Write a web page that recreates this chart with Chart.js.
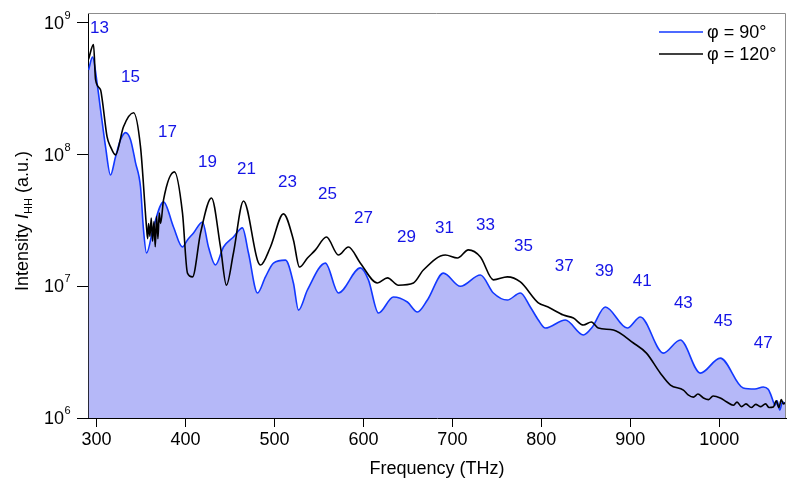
<!DOCTYPE html>
<html>
<head>
<meta charset="utf-8">
<script src="https://cdn.jsdelivr.net/npm/chart.js@4.4.1/dist/chart.umd.min.js"></script>
<style>
  body { margin: 0; background: #fff; }
  canvas { display: block; }
</style>
</head>
<body>
<canvas id="chart" width="800" height="484"></canvas>
<script>
// phi = 90 deg (blue, filled)
const freq90 = [291.0, 295.5, 301.1, 304.5, 310.1, 315.7, 321.3, 327.0, 332.6, 338.2, 343.8, 349.4, 352.8, 356.2,
  364.0, 375.3, 386.5, 396.6, 402.2, 409.0, 419.1, 425.8, 433.7, 442.7, 453.9, 464.0, 470.8, 480.9, 489.9, 498.9,
  512.4, 521.3, 527.0, 537.1, 557.3, 571.9, 596.6, 605.6, 616.9, 633.7, 649.4, 660.7, 671.9, 689.9, 709.0, 731.5,
  746.1, 761.8, 776.4, 787.6, 796.6, 804.5, 827.0, 847.2, 857.3, 871.9, 896.6, 911.3, 937.1, 956.2, 978.7, 1001.1,
  1026.9, 1040, 1049.4, 1055, 1058, 1062.9, 1065, 1068, 1071, 1075];
const int90 = [4.4e8, 5.5e8, 3.3e8, 2.2e8, 1.15e8, 7.0e7, 9.6e7, 1.3e8, 1.47e8, 1.3e8, 8.7e7, 5.7e7, 2.68e7, 1.79e7,
  2.82e7, 4.38e7, 2.82e7, 1.99e7, 2.25e7, 2.54e7, 3.08e7, 1.99e7, 1.45e7, 1.99e7, 2.37e7, 2.78e7, 1.79e7, 8.9e6, 1.18e7, 1.5e7,
  1.58e7, 1.06e7, 6.6e6, 9.4e6, 1.5e7, 8.9e6, 1.38e7, 1.12e7, 6.27e6, 8.3e6, 7.6e6, 6.38e6, 7.87e6, 1.26e7, 1.0e7, 1.22e7,
  8.9e6, 7.87e6, 8.9e6, 6.97e6, 5.55e6, 4.82e6, 5.55e6, 4.27e6, 4.91e6, 6.97e6, 4.82e6, 5.85e6, 3.11e6, 3.91e6, 2.19e6, 2.85e6,
  1.69e6, 1.66e6, 1.72e6, 1.65e6, 1.5e6, 1.25e6, 1.35e6, 1.15e6, 1.32e6, 1.28e6];

// phi = 120 deg (black)
const freq120 = [291.0, 296.6, 298.9, 304.5, 306.4, 311.8, 315.7, 321.3, 330.3, 341.6, 349.4, 356.2,
  357.5, 358.5, 360, 361.5, 363, 364.5, 366, 367.5, 369, 370.5, 372,
  375.3, 387.6, 396.6, 402.2, 407.9, 416.9, 429.2, 439.3, 446.0, 453.9, 465.2, 480.9, 484.3, 495.5, 510.1, 521.3, 528.1,
  537.1, 546.1, 558.4, 571.9, 583.1, 596.6, 615.7, 627.0, 639.3, 656.2, 667.4, 692.1, 705.6, 718.0, 731.5, 746.1,
  761.8, 776.4, 796.6, 807, 824.8, 836.0, 847.2, 856.2, 864, 881.0, 903.5, 918.1, 933.8, 945.1, 959.7, 965, 970.9,
  976, 982.2, 988, 993, 1001.1, 1008, 1015.7, 1020, 1025, 1030, 1036, 1041, 1046.1, 1052, 1056, 1060.7, 1064, 1067,
  1069.7, 1072, 1075];
const int120 = [5.3e8, 6.84e8, 3.71e8, 3.11e8, 2.61e8, 1.37e8, 1.15e8, 9.96e7, 1.63e8, 2.08e8, 1.15e8, 2.8e7,
  2.3e7, 3.0e7, 2.4e7, 3.3e7, 2.2e7, 3.1e7, 2.0e7, 3.4e7, 2.3e7, 3.6e7, 3.0e7,
  4.53e7, 7.4e7, 3.61e7, 1.26e7, 1.18e7, 2.54e7, 4.69e7, 1.99e7, 1.02e7, 1.79e7, 4.45e7, 1.58e7, 1.45e7, 1.99e7, 3.55e7, 2.25e7, 1.4e7,
  1.64e7, 1.89e7, 2.37e7, 1.73e7, 1.99e7, 1.5e7, 1.06e7, 1.16e7, 1.02e7, 1.06e7, 1.33e7, 1.73e7, 1.64e7, 1.89e7, 1.67e7, 1.12e7,
  1.18e7, 1.08e7, 7.5e6, 7.0e6, 6.05e6, 5.74e6, 5.08e6, 5.36e6, 4.82e6, 4.66e6, 3.71e6, 3.11e6, 2.19e6, 1.78e6, 1.63e6, 1.5e6, 1.44e6,
  1.52e6, 1.42e6, 1.38e6, 1.47e6, 1.42e6, 1.33e6, 1.25e6, 1.32e6, 1.22e6, 1.28e6, 1.2e6, 1.27e6, 1.22e6, 1.28e6, 1.2e6, 1.21e6, 1.35e6, 1.2e6,
  1.38e6, 1.28e6, 1.32e6];

// harmonic order labels
const orders = ["13", "15", "17", "19", "21", "23", "25", "27", "29", "31", "33", "35", "37", "39", "41", "43", "45", "47"];
const orderFreq = [303.4, 338.2, 379.8, 424.7, 468.5, 514.6, 559.6, 600.0, 648.3, 691.0, 737.1, 779.8, 825.8, 870.8, 913.5, 959.6, 1004.5, 1049.4];
const orderInt = [9.06e8, 3.84e8, 1.49e8, 8.67e7, 7.8e7, 6.21e7, 5.04e7, 3.31e7, 2.37e7, 2.78e7, 2.93e7, 2.02e7, 1.43e7, 1.31e7, 1.1e7, 7.47e6, 5.45e6, 3.71e6];

const xTicks = [300, 400, 500, 600, 700, 800, 900, 1000];
const yTicks = [1e6, 1e7, 1e8, 1e9];
const seriesNames = ["φ = 90°", "φ = 120°"];

const FONT = "'Liberation Sans', Arial, sans-serif";
const BLUE = "#1238ff";
const TEXT_BLUE = "#1414e6";

const toPoints = (xs, ys) => xs.map((x, i) => ({ x: x, y: ys[i] }));

const decorations = {
  id: "decorations",
  afterDraw(chart) {
    const ctx = chart.ctx;
    const area = chart.chartArea;
    const xs = chart.scales.x;
    const ys = chart.scales.y;
    ctx.save();

    // gray frame on top / right
    ctx.strokeStyle = "#8c8c8c";
    ctx.lineWidth = 1;
    ctx.beginPath();
    ctx.moveTo(area.left, area.top + 0.5);
    ctx.lineTo(area.right - 0.5, area.top + 0.5);
    ctx.lineTo(area.right - 0.5, area.bottom);
    ctx.stroke();

    // harmonic orders
    ctx.fillStyle = TEXT_BLUE;
    ctx.font = "17px " + FONT;
    ctx.textAlign = "center";
    ctx.textBaseline = "middle";
    orders.forEach((o, i) => {
      ctx.fillText(o, xs.getPixelForValue(orderFreq[i]), ys.getPixelForValue(orderInt[i]));
    });

    // y tick labels 10^n
    ctx.fillStyle = "#000";
    yTicks.forEach(v => {
      const py = ys.getPixelForValue(v);
      ctx.font = "18px " + FONT;
      ctx.textAlign = "right";
      ctx.textBaseline = "middle";
      ctx.fillText("10", 64, py + 1);
      ctx.font = "11px " + FONT;
      ctx.textAlign = "left";
      ctx.fillText(String(Math.round(Math.log10(v))), 64.5, py - 7);
    });

    // y axis title with italic I and subscript HH
    ctx.translate(21, 221);
    ctx.rotate(-Math.PI / 2);
    ctx.textAlign = "left";
    ctx.textBaseline = "alphabetic";
    const parts = [
      { t: "Intensity ", f: "18px " + FONT, dy: 7 },
      { t: "I", f: "italic 18px " + FONT, dy: 7 },
      { t: "HH", f: "11px " + FONT, dy: 11 },
      { t: " (a.u.)", f: "18px " + FONT, dy: 7 }
    ];
    let total = 0;
    parts.forEach(p => { ctx.font = p.f; p.w = ctx.measureText(p.t).width; total += p.w; });
    let cx = -total / 2;
    parts.forEach(p => { ctx.font = p.f; ctx.fillText(p.t, cx, p.dy); cx += p.w; });
    ctx.restore();

    // legend
    ctx.save();
    const colors = [BLUE, "#000"];
    const rows = [32, 54];
    ctx.lineWidth = 1.6;
    ctx.font = "18px " + FONT;
    ctx.textBaseline = "middle";
    ctx.fillStyle = "#000";
    seriesNames.forEach((n, i) => {
      ctx.strokeStyle = colors[i];
      ctx.beginPath();
      ctx.moveTo(659, rows[i]);
      ctx.lineTo(703, rows[i]);
      ctx.stroke();
      ctx.fillText(n, 707, rows[i] + 1);
    });
    ctx.restore();
  }
};

new Chart(document.getElementById("chart").getContext("2d"), {
  type: "line",
  data: {
    datasets: [
      {
        label: seriesNames[0],
        data: toPoints(freq90, int90),
        borderColor: BLUE,
        backgroundColor: "rgb(181, 184, 248)",
        borderWidth: 1.6,
        fill: "start",
        pointRadius: 0,
        cubicInterpolationMode: "monotone",
        order: 1
      },
      {
        label: seriesNames[1],
        data: toPoints(freq120, int120),
        borderColor: "#000",
        borderWidth: 1.6,
        fill: false,
        pointRadius: 0,
        cubicInterpolationMode: "monotone",
        order: 0
      }
    ]
  },
  options: {
    responsive: false,
    animation: false,
    layout: { padding: { top: 13, right: 14, left: 0, bottom: 0 } },
    plugins: {
      legend: { display: false },
      tooltip: { enabled: false }
    },
    scales: {
      x: {
        type: "linear",
        min: 290.4,
        max: 1075,
        afterBuildTicks: scale => { scale.ticks = xTicks.map(v => ({ value: v })); },
        afterFit: scale => { scale.height = 66; },
        border: { color: "#000", width: 1 },
        grid: { drawOnChartArea: false, tickLength: 9, color: "#000" },
        ticks: {
          font: { family: FONT, size: 18 },
          color: "#000",
          padding: 2,
          maxRotation: 0,
          autoSkip: false,
          callback: v => String(v)
        },
        title: {
          display: true,
          text: "Frequency (THz)",
          font: { family: FONT, size: 18 },
          color: "#000",
          padding: { top: 0, bottom: 4 }
        }
      },
      y: {
        type: "logarithmic",
        min: 1e6,
        max: 1.19e9,
        afterBuildTicks: scale => { scale.ticks = yTicks.map(v => ({ value: v })); },
        afterFit: scale => { scale.width = 88; },
        border: { color: "#000", width: 1 },
        grid: { drawOnChartArea: false, tickLength: 11, color: "#000" },
        ticks: { display: false }
      }
    }
  },
  plugins: [decorations]
});
</script>
</body>
</html>
